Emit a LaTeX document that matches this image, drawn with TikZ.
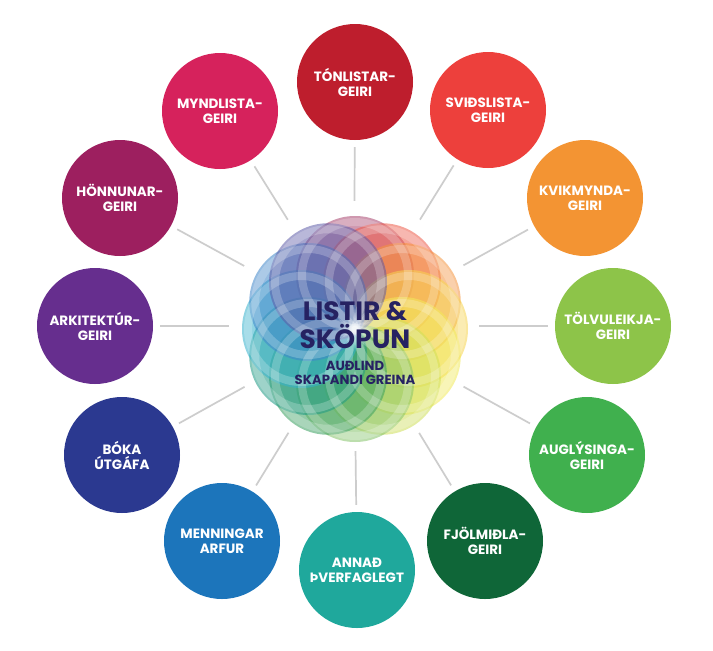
\documentclass[tikz,border=0pt]{standalone}
\usepackage{fontspec}
\setmainfont{Poppins}[BoldFont={Poppins Bold}]
\definecolor{cTon}{HTML}{BE1E2D}
\definecolor{cSvi}{HTML}{ED403C}
\definecolor{cKvi}{HTML}{F39433}
\definecolor{cTol}{HTML}{8DC449}
\definecolor{cAug}{HTML}{40B04E}
\definecolor{cFjo}{HTML}{0F6638}
\definecolor{cAnn}{HTML}{1FA89C}
\definecolor{cMen}{HTML}{1C75BB}
\definecolor{cBok}{HTML}{2B3990}
\definecolor{cArk}{HTML}{662E8E}
\definecolor{cHon}{HTML}{9D1F5F}
\definecolor{cMyn}{HTML}{D6225C}
\definecolor{navy}{HTML}{262262}
\definecolor{lgray}{HTML}{CDCDCD}
\definecolor{b1}{HTML}{A8456E}
\definecolor{b2}{HTML}{EE5A48}
\definecolor{b3}{HTML}{F5953E}
\definecolor{b4}{HTML}{F7D550}
\definecolor{b5}{HTML}{F2EA5A}
\definecolor{b6}{HTML}{CFE05A}
\definecolor{b7}{HTML}{86C46A}
\definecolor{b8}{HTML}{3AA060}
\definecolor{b9}{HTML}{1E9A84}
\definecolor{b10}{HTML}{35B2CC}
\definecolor{b11}{HTML}{3F86CA}
\definecolor{b12}{HTML}{5E5CA8}
\begin{document}
\begin{tikzpicture}[x=1pt,y=-1pt,
  sector/.style={circle, minimum size=116pt, inner sep=0pt, align=center,
    text=white, font=\bfseries\fontsize{13.5}{15}\selectfont},
  conn/.style={draw=lgray, line width=1.7pt, shorten >=7pt},
  hub/.style={circle, minimum size=250pt, inner sep=0pt},
  bigtitle/.style={text=navy, font=\bfseries\fontsize{26.5}{28}\selectfont, inner sep=0pt, anchor=base},
  subtitle/.style={text=navy, font=\bfseries\fontsize{13.2}{14}\selectfont, inner sep=0pt, anchor=base}]
\useasboundingbox (0,0) rectangle (713,651);
\fill[white] (0,0) rectangle (713,651);

% hub (invisible) for connectors
\node[hub] (hub) at (354,326) {};

% outer sectors
\node[sector, fill=cTon] (ton) at (355,82)  {TÓNLISTAR-\\GEIRI};
\node[sector, fill=cSvi] (svi) at (488,110) {SVIÐSLISTA-\\GEIRI};
\node[sector, fill=cKvi] (kvi) at (585,198) {KVIKMYNDA-\\GEIRI};
\node[sector, fill=cTol] (tol) at (613,326) {TÖLVULEIKJA-\\GEIRI};
\node[sector, fill=cAug] (aug) at (587,455) {AUGLÝSINGA-\\GEIRI};
\node[sector, fill=cFjo] (fjo) at (485,541) {FJÖLMIÐLA-\\GEIRI};
\node[sector, fill=cAnn] (ann) at (357,570) {ANNAÐ\\ÞVERFAGLEGT};
\node[sector, fill=cMen] (men) at (222,541) {MENNINGAR\\ARFUR};
\node[sector, fill=cBok] (bok) at (122,455) {BÓKA\\ÚTGÁFA};
\node[sector, fill=cArk] (ark) at (95,326)  {ARKITEKTÚR-\\GEIRI};
\node[sector, fill=cHon] (hon) at (120,198) {HÖNNUNAR-\\GEIRI};
\node[sector, fill=cMyn] (myn) at (220,111) {MYNDLISTA-\\GEIRI};

% connectors
\foreach \n in {ton,svi,kvi,tol,aug,fjo,ann,men,bok,ark,hon,myn}
  \draw[conn] (hub) -- (\n);

% central bloom
\coordinate (bc) at (355,329);
\foreach \a/\c in {90/b1,60/b2,30/b3,0/b4,-30/b5,-60/b6,-90/b7,-120/b8,-150/b9,180/b10,150/b11,120/b12}{
  \fill[\c, opacity=0.55] (bc) ++(\a:54pt) circle (59pt);
}
\foreach \a in {90,60,30,0,-30,-60,-90,-120,-150,180,150,120}{
  \draw[white, opacity=0.22, line width=8pt] (bc) ++(\a:54pt) circle (53pt);
}

% titles
\node[bigtitle] (t1) at (355,320) {LISTIR \&};
\node[bigtitle] (t2) at (355,348) {SKÖPUN};
\node[subtitle] (t3) at (355,370) {AUÐLIND};
\node[subtitle] (t4) at (355,384) {SKAPANDI GREINA};
\end{tikzpicture}
\end{document}
